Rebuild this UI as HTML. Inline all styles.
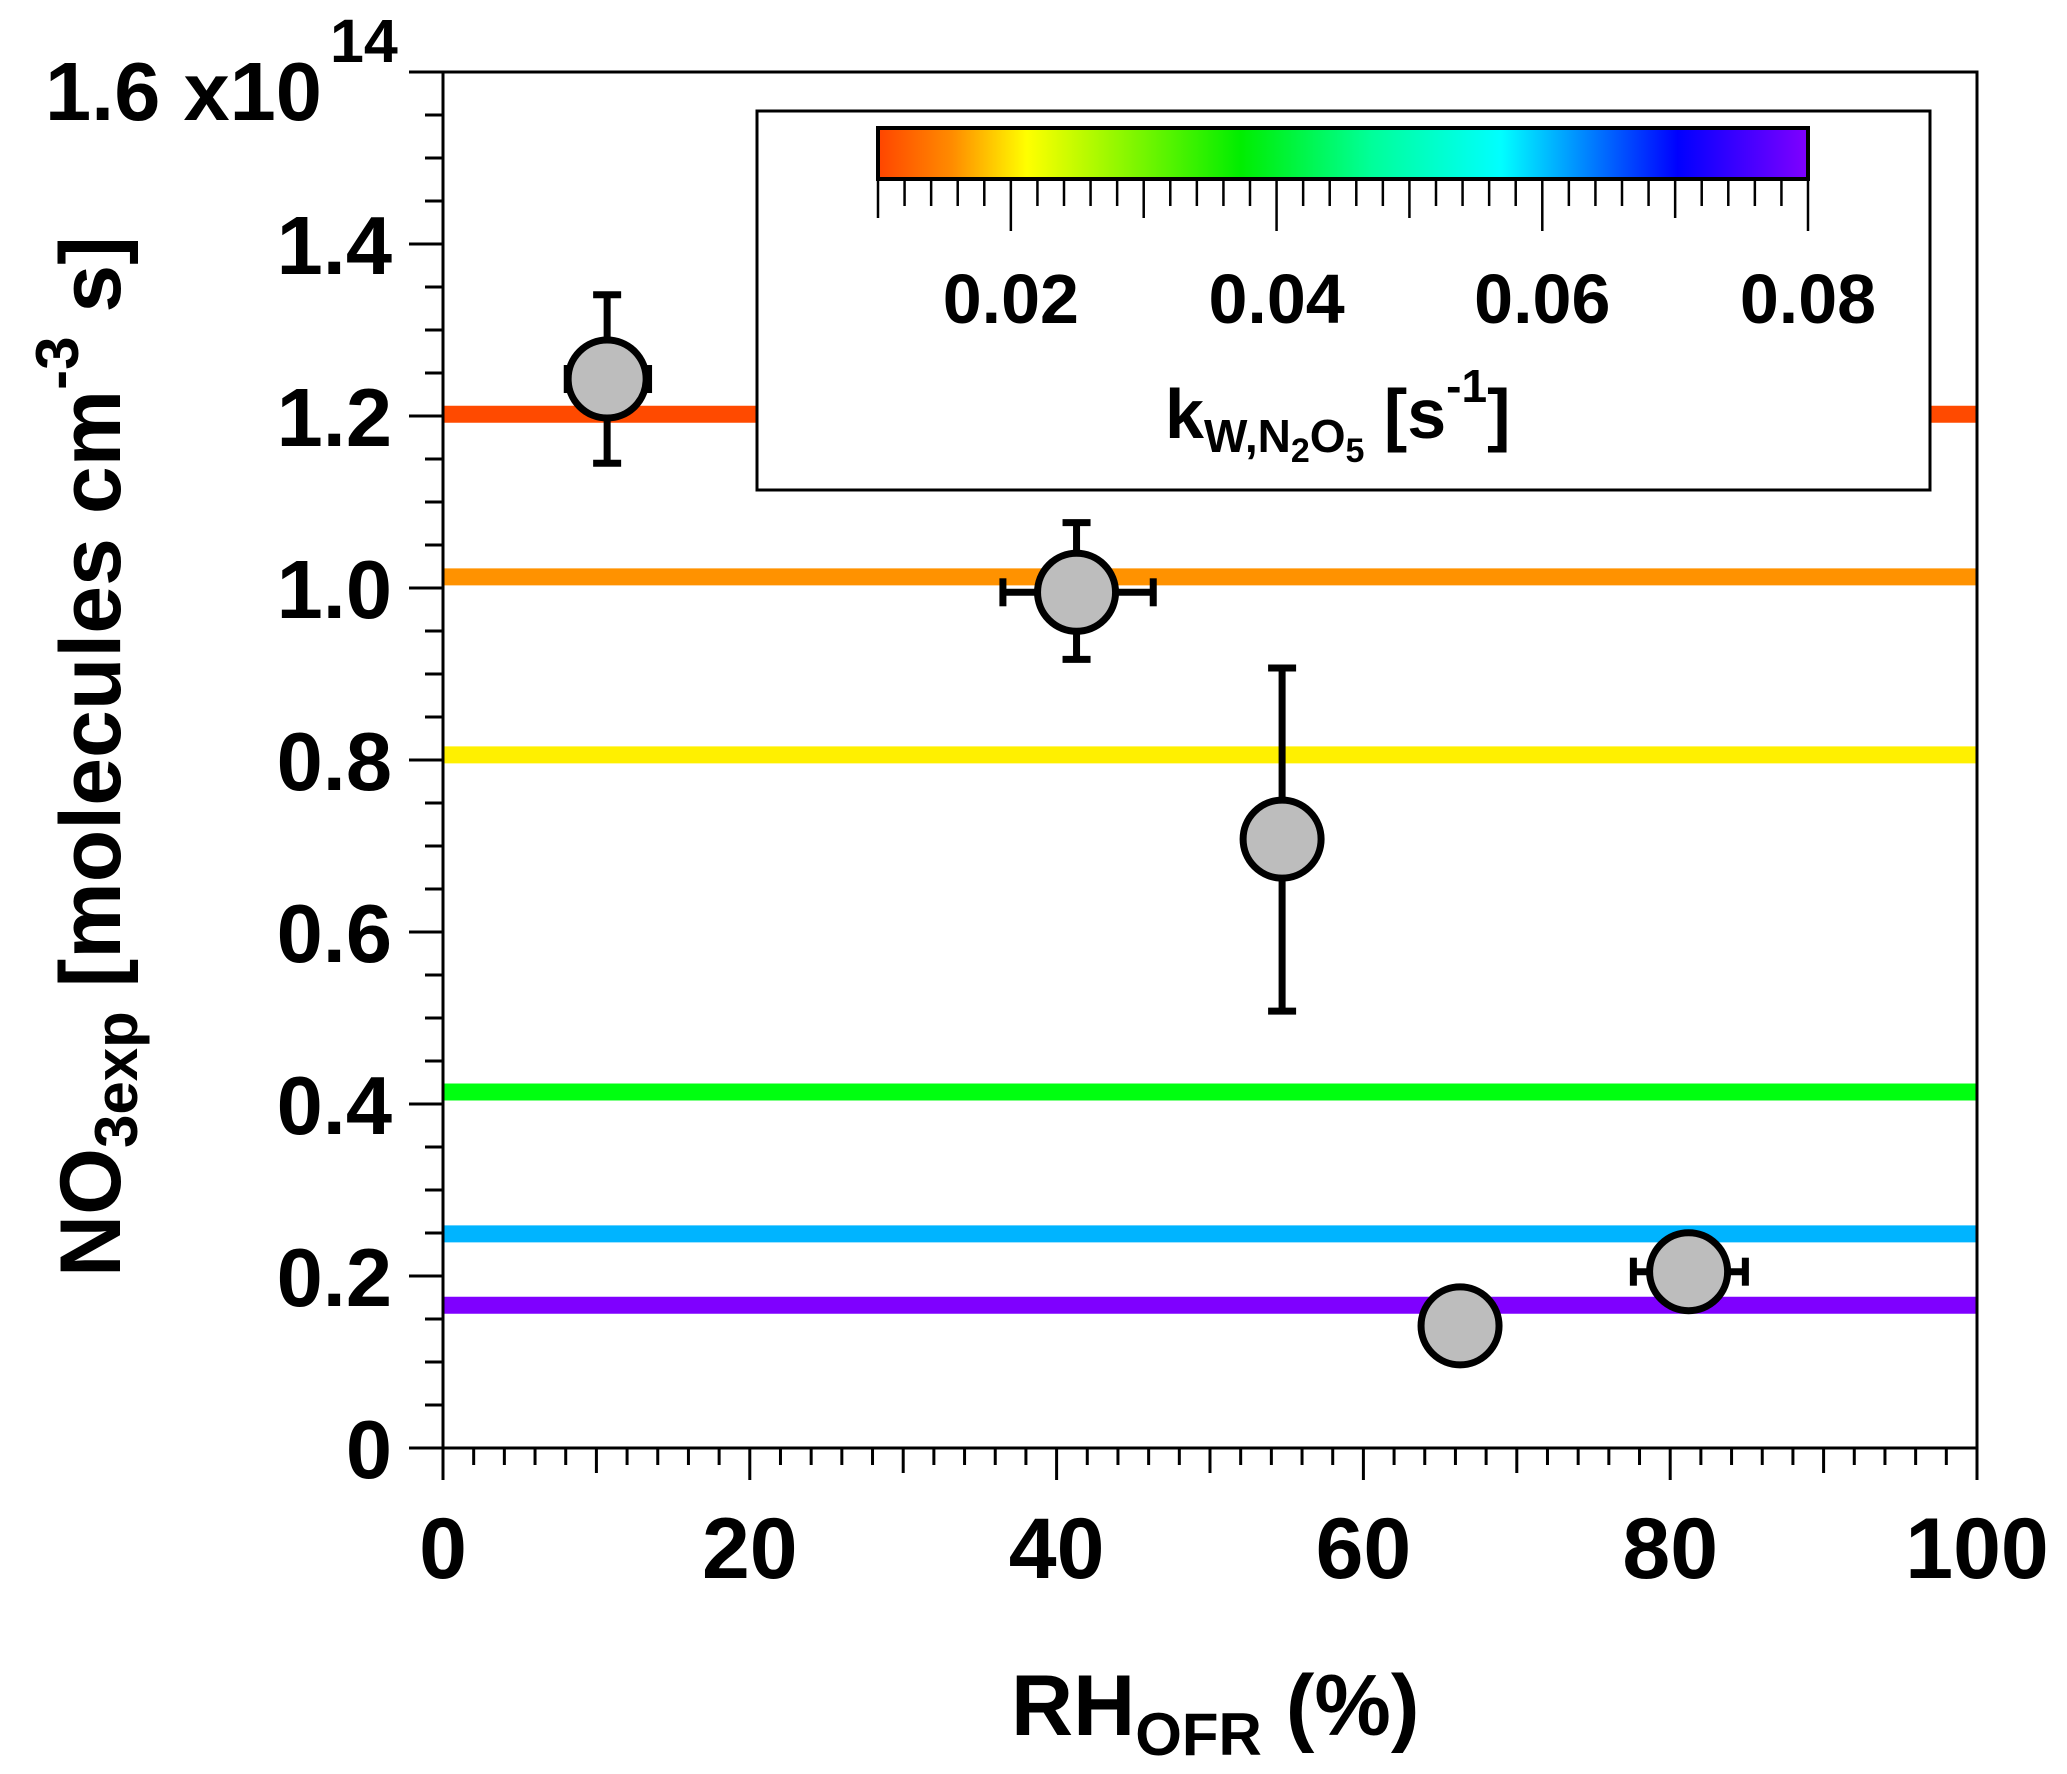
<!DOCTYPE html>
<html><head><meta charset="utf-8"><style>
html,body{margin:0;padding:0;background:#fff;}
svg{display:block;font-family:"Liberation Sans",sans-serif;font-weight:bold;}
</style></head><body>
<svg id="chart" width="2067" height="1774" viewBox="0 0 2067 1774" xmlns="http://www.w3.org/2000/svg">
<defs>
<linearGradient id="cbar" x1="0" x2="1" y1="0" y2="0">
<stop offset="0" stop-color="#ff4500"/><stop offset="0.08" stop-color="#ff8c00"/><stop offset="0.16" stop-color="#ffff00"/><stop offset="0.39" stop-color="#00ee00"/><stop offset="0.53" stop-color="#00ff99"/><stop offset="0.67" stop-color="#00ffff"/><stop offset="0.86" stop-color="#0000ff"/><stop offset="1" stop-color="#8000ff"/>
</linearGradient>
</defs>
<g id="plot"></g>
</svg>
<script>
const lineValues=[1.202,1.013,0.806,0.414,0.249,0.166];
const lineColors=['#ff4a00','#ff9200','#fff000','#00ff10','#00b4ff','#7f00ff'];
const ptX=[10.7,41.3,54.7,66.3,81.2];
const ptY=[1.243,0.995,0.708,0.142,0.205];
const ptYlo=[1.145,0.917,0.508,null,null];
const ptYhi=[1.341,1.076,0.907,null,null];
const ptXlo=[8.1,36.5,null,null,77.6];
const ptXhi=[13.4,46.3,null,null,84.9];
const yTicks=['0','0.2','0.4','0.6','0.8','1.0','1.2','1.4'];
const yTickVals=[0,0.2,0.4,0.6,0.8,1.0,1.2,1.4];
const xTickVals=[0,20,40,60,80,100];
const cbTickVals=[0.02,0.04,0.06,0.08];
const cbTickLabels=['0.02','0.04','0.06','0.08'];

const L=443,R=1977,T=72,B=1448;
const X=v=>L+(v/100)*(R-L);
const Y=v=>B-(v/1.6)*(B-T);
const CL=878,CR=1808;
const C=v=>CL+(v-0.01)/0.07*(CR-CL);
const NS='http://www.w3.org/2000/svg';
const g=document.getElementById('plot');
function mk(tag,attrs,parent){const e=document.createElementNS(NS,tag);for(const k in attrs)e.setAttribute(k,attrs[k]);(parent||g).appendChild(e);return e;}

lineValues.forEach((v,i)=>{
  const e=mk('line',{x1:L,x2:R,y1:Y(v),y2:Y(v),stroke:lineColors[i],'stroke-width':17});
  
  
});

const ax=mk('path',{d:`M${L},${T} L${L},${B} L${R},${B} L${R},${T} L${L},${T}`,fill:'none',stroke:'#000','stroke-width':3});


for(let k=0;k<=32;k++){const v=k*0.05;const len=(k%4===0)?34:18;
  mk('line',{x1:L-len,x2:L,y1:Y(v),y2:Y(v),stroke:'#000','stroke-width':3});}
for(let k=0;k<=50;k++){const v=k*2;const len=(v%20===0)?32:(v%10===0?25:17);
  mk('line',{x1:X(v),x2:X(v),y1:B,y2:B+len,stroke:'#000','stroke-width':3});}
yTickVals.forEach((v,i)=>{
  const t=mk('text',{x:392,y:Y(v)+30,'text-anchor':'end','font-size':83});
  t.textContent=yTicks[i];
  
  
});
xTickVals.forEach(v=>{
  const t=mk('text',{x:X(v),y:1578,'text-anchor':'middle','font-size':86});
  t.textContent=String(v);
  
  
});

const box=mk('rect',{x:757,y:111,width:1173,height:379,fill:'#fff',stroke:'#000','stroke-width':3});


const bar=mk('rect',{x:CL,y:128,width:CR-CL,height:51,fill:'url(#cbar)',stroke:'#000','stroke-width':4});


for(let k=0;k<=35;k++){const v=0.01+k*0.002;const len=(k%10===5)?52:(k%5===0?39:27);
  mk('line',{x1:C(v),x2:C(v),y1:179,y2:179+len,stroke:'#000','stroke-width':2.5});}
cbTickVals.forEach((v,i)=>{
  const t=mk('text',{x:C(v),y:323,'text-anchor':'middle','font-size':70});
  t.textContent=cbTickLabels[i];
  
  
});

ptX.forEach((xv,i)=>{
  const cx=X(xv),cy=Y(ptY[i]);
  if(ptYlo[i]!==null){
    mk('line',{x1:cx,x2:cx,y1:Y(ptYhi[i]),y2:Y(ptYlo[i]),stroke:'#000','stroke-width':7});
    mk('line',{x1:cx-14,x2:cx+14,y1:Y(ptYhi[i]),y2:Y(ptYhi[i]),stroke:'#000','stroke-width':7});
    mk('line',{x1:cx-14,x2:cx+14,y1:Y(ptYlo[i]),y2:Y(ptYlo[i]),stroke:'#000','stroke-width':7});
  }
  if(ptXlo[i]!==null){
    mk('line',{x1:X(ptXlo[i]),x2:X(ptXhi[i]),y1:cy,y2:cy,stroke:'#000','stroke-width':7});
    mk('line',{x1:X(ptXlo[i]),x2:X(ptXlo[i]),y1:cy-14,y2:cy+14,stroke:'#000','stroke-width':7});
    mk('line',{x1:X(ptXhi[i]),x2:X(ptXhi[i]),y1:cy-14,y2:cy+14,stroke:'#000','stroke-width':7});
  }
  const c=mk('circle',{cx:cx,cy:cy,r:39,fill:'#bdbdbd',stroke:'#000','stroke-width':7});
  
  
});
</script>
<div style="position:absolute;left:0;top:0;width:2067px;height:1774px;pointer-events:none">
<svg width="2067" height="1774" style="font-family:'Liberation Sans',sans-serif;font-weight:bold">
<text x="45" y="120" font-size="83">1.6 x10</text>
<text x="330" y="62" font-size="61">14</text>
<text transform="translate(120,1277) rotate(-90)" font-size="86">NO<tspan font-size="60" dy="17">3exp</tspan><tspan dy="-17"> [molecules cm</tspan><tspan font-size="60" dy="-42">-3</tspan><tspan dy="42"> s]</tspan></text>
<text x="1011" y="1735" font-size="86">RH<tspan font-size="60" dy="20">OFR</tspan><tspan dy="-20"> (%)</tspan></text>
<text x="1165" y="438" font-size="70">k<tspan font-size="46" dy="14">W,N</tspan><tspan font-size="34" dy="10">2</tspan><tspan font-size="46" dy="-10">O</tspan><tspan font-size="34" dy="10">5</tspan><tspan dy="-24"> [s</tspan><tspan font-size="46" dy="-36">-1</tspan><tspan dy="36">]</tspan></text>
</svg></div>
</body></html>
